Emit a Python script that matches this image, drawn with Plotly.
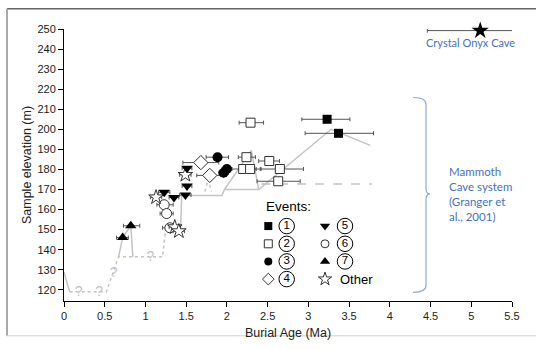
import plotly.graph_objects as go

# ---------------- data ----------------
# Event 1 (filled squares)
e1_age = [3.23, 3.37]
e1_elev = [205.0, 198.0]
e1_lo = [2.92, 2.96]
e1_hi = [3.51, 3.80]
# Event 2 (open squares)
e2_age = [2.29, 2.24, 2.52, 2.20, 2.285, 2.65, 2.63]
e2_elev = [203.3, 186.1, 184.2, 180.2, 180.2, 180.2, 174.1]
e2_lo = [2.15, 2.14, 2.39, 2.06, 2.17, 2.41, 2.37]
e2_hi = [2.45, 2.35, 2.645, 2.36, 2.42, 2.94, 2.90]
# Event 3 (filled circles)
e3_age = [1.885, 1.96, 2.00]
e3_elev = [186.1, 178.3, 180.2]
e3_lo = [1.745, 1.90, 1.94]
e3_hi = [2.02, 2.02, 2.06]
# Event 4 (open diamonds)
e4_age = [1.68, 1.79]
e4_elev = [183.4, 177.0]
e4_lo = [1.46, 1.63]
e4_hi = [1.90, 1.96]
# Event 5 (filled down triangles)
e5_age = [1.23, 1.35, 1.49, 1.51, 1.51]
e5_elev = [168.6, 166.0, 167.2, 171.7, 180.6]
e5_lo = [1.16, 1.29, 1.42, 1.45, 1.45]
e5_hi = [1.30, 1.41, 1.56, 1.57, 1.57]
# Event 6 (open circles)
e6_age = [1.23, 1.26, 1.30]
e6_elev = [162.4, 158.0, 150.9]
e6_lo = [1.14, 1.18, 1.21]
e6_hi = [1.34, 1.34, 1.38]
# Event 7 (filled up triangles)
e7_age = [0.72, 0.82]
e7_elev = [146.0, 151.9]
e7_lo = [0.645, 0.73]
e7_hi = [0.79, 0.93]
# Other (open stars)
oth_age = [1.13, 1.36, 1.41, 1.49]
oth_elev = [166.1, 151.2, 149.2, 177.3]
oth_lo = [1.06, 1.29, 1.34, 1.42]
oth_hi = [1.20, 1.43, 1.48, 1.56]
# Crystal Onyx Cave
co_age = [5.11]
co_elev = [249.2]
co_lo = [4.46]
co_hi = [5.75]

# Background reconstruction lines
solid_a_x = [0.0, 0.07]
solid_a_y = [128.7, 119.0]
dotted_b_x = [0.07, 0.52, 0.67, 1.21, 1.25]
dotted_b_y = [119.0, 119.0, 136.4, 136.4, 150.8]
solid_c_x = [0.67, 0.72, 0.82, 0.845]
solid_c_y = [136.4, 146.0, 151.9, 136.4]
solid_d_x = [1.43, 1.445, 1.94, 1.97, 2.39, 3.28, 3.76]
solid_d_y = [148.5, 167.0, 167.0, 170.0, 170.0, 200.0, 192.0]
peak_x = [1.97, 2.30, 2.39]
peak_y = [170.0, 189.5, 170.0]
dotted_f_x = [1.73, 1.77, 1.81]
dotted_f_y = [169.0, 175.0, 169.0]
dashed_x = [2.42, 3.78]
dashed_y = [172.7, 172.7]
q_x = [0.18, 0.43, 0.61, 1.06]
q_y = [118.8, 118.8, 128.3, 136.0]

x_ticks = [0, 0.5, 1, 1.5, 2, 2.5, 3, 3.5, 4, 4.5, 5, 5.5]
x_ticklabels = ["0", "0.5", "1", "1.5", "2", "2.5", "3", "3.5", "4", "4.5", "5", "5.5"]
y_ticks = list(range(120, 251, 10))

legend_labels = ["1", "2", "3", "4", "5", "6", "7", "Other"]

# ---------------- figure ----------------
GRAY = "#c4c4c4"
ERR = "#555555"
EDGE = "#333333"

fig = go.Figure()


def add_line(x, y, dash="solid", color=GRAY, width=1.5):
    fig.add_trace(go.Scatter(x=x, y=y, mode="lines", line=dict(color=color, width=width, dash=dash),
                             hoverinfo="skip", showlegend=False))


add_line(solid_a_x, solid_a_y)
add_line(dotted_b_x, dotted_b_y, dash="dot")
add_line(solid_c_x, solid_c_y)
add_line(solid_d_x, solid_d_y)
add_line(peak_x, peak_y)
add_line(dotted_f_x, dotted_f_y, dash="dot")
add_line(dashed_x, dashed_y, dash="dash")

fig.add_trace(go.Scatter(x=q_x, y=q_y, mode="text", text=["?"] * len(q_x),
                         textfont=dict(family="Liberation Sans", size=14, color="#c4c4c4"),
                         hoverinfo="skip", showlegend=False))


def err(x, lo, hi):
    return dict(type="data", symmetric=False,
                array=[h - v for v, h in zip(x, hi)],
                arrayminus=[v - l for v, l in zip(x, lo)],
                color=ERR, thickness=1, width=2)


def add_pts(x, y, lo, hi, symbol, size, fill, line_w=1):
    fig.add_trace(go.Scatter(x=x, y=y, mode="markers", error_x=err(x, lo, hi),
                             marker=dict(symbol=symbol, size=size, color=fill,
                                         line=dict(color=EDGE if fill == "white" else "black", width=line_w)),
                             cliponaxis=False, showlegend=False))


add_pts(e2_age, e2_elev, e2_lo, e2_hi, "square", 9, "white")
add_pts(e4_age, e4_elev, e4_lo, e4_hi, "diamond", 11, "white")
add_pts(e6_age, e6_elev, e6_lo, e6_hi, "circle", 10, "white")
add_pts(oth_age, oth_elev, oth_lo, oth_hi, "star", 11, "white")
add_pts(e1_age, e1_elev, e1_lo, e1_hi, "square", 9, "black", 0)
add_pts(e3_age, e3_elev, e3_lo, e3_hi, "circle", 10, "black", 0)
add_pts(e5_age, e5_elev, e5_lo, e5_hi, "triangle-down", 10, "black", 0)
add_pts(e7_age, e7_elev, e7_lo, e7_hi, "triangle-up", 10, "black", 0)
add_pts(co_age, co_elev, co_lo, co_hi, "star", 13, "black", 0)

# ---------------- legend drawn on a pixel-like overlay axis ----------------
leg_specs = [
    ("square", 8, "black"), ("square", 8, "white"), ("circle", 8, "black"), ("diamond", 9, "white"),
    ("triangle-down", 9, "black"), ("circle", 8, "white"), ("triangle-up", 9, "black"), ("star", 10, "white"),
]
row_y = [233.3, 251.7, 270.0, 288.3]
col_mx = [268.3, 325.0]
col_tx = [286.7, 345.0]
for i, (sym, sz, fill) in enumerate(leg_specs):
    c, r = divmod(i, 4)
    fig.add_trace(go.Scatter(x=[col_mx[c]], y=[row_y[r]], xaxis="x2", yaxis="y2", mode="markers",
                             marker=dict(symbol=sym, size=sz, color=fill,
                                         line=dict(color=EDGE, width=1 if fill == "white" else 0)),
                             hoverinfo="skip", showlegend=False))
    lab = legend_labels[i]
    if lab == "Other":
        fig.add_annotation(x=338.3, y=row_y[r], xref="x2", yref="y2", text=lab, showarrow=False,
                           xanchor="left", yanchor="middle",
                           font=dict(family="Liberation Sans", size=13, color="black"))
    else:
        # circled number: open circle with the digit as text inside
        fig.add_trace(go.Scatter(x=[col_tx[c]], y=[row_y[r]], xaxis="x2", yaxis="y2", mode="markers+text",
                                 text=[lab], textposition="middle center",
                                 textfont=dict(family="Liberation Sans", size=11.5, color="black"),
                                 marker=dict(symbol="circle-open", size=15.5, color="black",
                                             line=dict(color="black", width=1)),
                                 hoverinfo="skip", showlegend=False))

fig.add_annotation(x=264, y=213.3, xref="x2", yref="y2", text="Events:", showarrow=False,
                   xanchor="left", yanchor="middle", font=dict(family="Liberation Sans", size=13.5, color="black"))

BLUE = "#4472C4"
fig.add_annotation(x=470.5, y=42.7, xref="x2", yref="y2", text="Crystal Onyx Cave", showarrow=False,
                   xanchor="center", yanchor="middle", font=dict(family="Lato", size=11, color=BLUE))
fig.add_annotation(x=447, y=200.5, xref="x2", yref="y2",
                   text="Mammoth<br>Cave system<br>(Granger et<br>al., 2001)", showarrow=False,
                   xanchor="left", yanchor="middle", align="left",
                   font=dict(family="Lato", size=11.5, color=BLUE))

# curly bracket
fig.add_shape(type="path", xref="x2", yref="y2",
              path="M 413,100 Q 426,100 426,107 L 426,194 Q 426,200 430,200 Q 426,200 426,206 "
                   "L 426,295 Q 426,302 413,302",
              line=dict(color="#8eaadb", width=1.2))

# outer frame of the picture
fig.add_shape(type="line", xref="paper", yref="paper", x0=-0.1272, x1=1.07, y0=1.0745, y1=1.0745,
              line=dict(color="#666666", width=1.5))
fig.add_shape(type="line", xref="paper", yref="paper", x0=-0.1272, x1=-0.1272, y0=1.0745, y1=-0.128,
              line=dict(color="#a8a8a8", width=2))
fig.add_shape(type="line", xref="paper", yref="paper", x0=-0.1272, x1=1.07, y0=-0.128, y1=-0.128,
              line=dict(color="#d0d0d0", width=1))

AX_FONT = dict(family="Liberation Sans", size=11, color="#222222")
fig.update_layout(
    width=536, height=350,
    margin=dict(l=64, r=24, t=29, b=39, pad=0),
    paper_bgcolor="white", plot_bgcolor="white",
    showlegend=False,
    xaxis=dict(range=[0, 5.5], tickvals=x_ticks, ticktext=x_ticklabels, showgrid=False, zeroline=False,
               showline=True, linecolor="black", linewidth=1, ticks="outside", ticklen=5, tickcolor="black",
               tickfont=AX_FONT, title=dict(text="Burial Age (Ma)", standoff=7,
                                            font=dict(family="Liberation Sans", size=12.5, color="#222222"))),
    yaxis=dict(range=[114.4, 250], tickvals=y_ticks, showgrid=False, zeroline=False,
               showline=True, linecolor="black", linewidth=1, ticks="outside", ticklen=5, tickcolor="black",
               tickfont=AX_FONT, title=dict(text="Sample elevation (m)", standoff=3,
                                            font=dict(family="Liberation Sans", size=12.5, color="#222222"))),
    xaxis2=dict(overlaying="x", range=[64, 512], visible=False, fixedrange=True),
    yaxis2=dict(overlaying="y", range=[311, 29], visible=False, fixedrange=True),
)

fig.write_html("out.html")
